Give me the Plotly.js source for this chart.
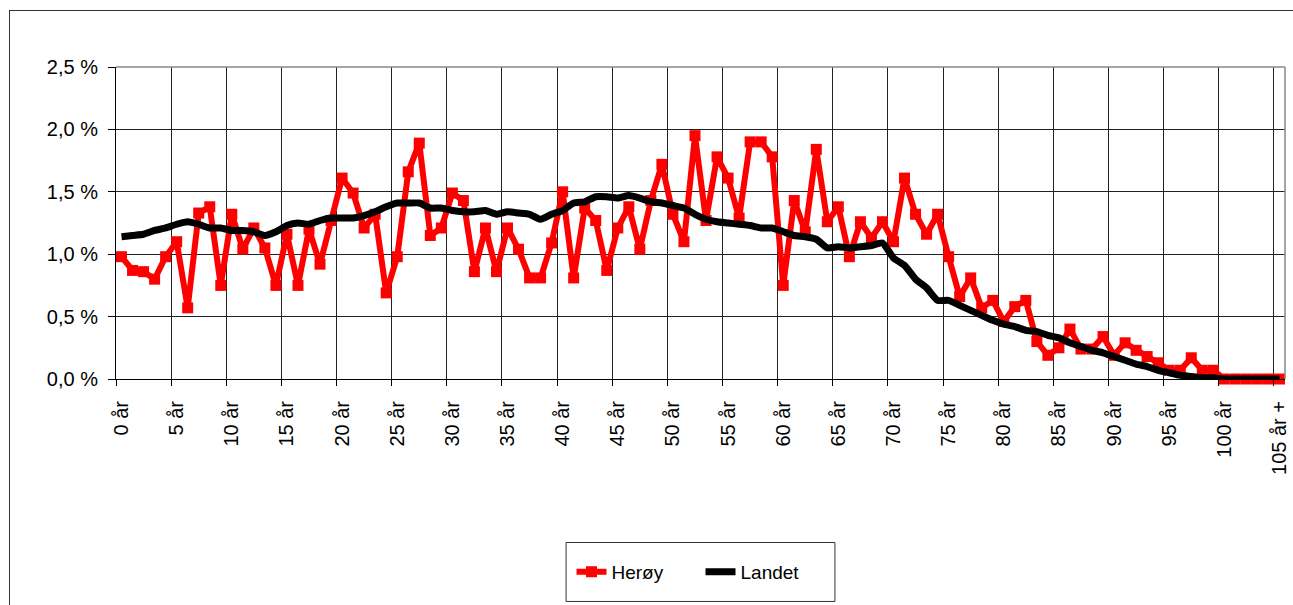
<!DOCTYPE html>
<html>
<head>
<meta charset="utf-8">
<script src="https://cdn.plot.ly/plotly-3.0.1.min.js"></script>
<style>
html,body{margin:0;padding:0;background:#fff;overflow:hidden}
#chart{width:1293px;height:605px}
#frame{position:absolute;left:9px;top:10px;width:2000px;height:2000px;border-left:1px solid #333;border-top:1px solid #333;pointer-events:none}
</style>
</head>
<body>
<div id="chart"></div>
<div id="frame"></div>
<script>
// Ages 0..105 (category index)
var ages = [];
for (var a = 0; a <= 105; a++) ages.push(a);

// Share of population (%) by age
var heroy = [
  0.98,0.87,0.86,0.80,0.98,1.10,0.57,1.33,1.38,0.75,
  1.32,1.04,1.21,1.05,0.75,1.16,0.75,1.20,0.92,1.27,
  1.61,1.49,1.21,1.32,0.69,0.98,1.66,1.89,1.15,1.21,
  1.49,1.43,0.86,1.21,0.86,1.21,1.04,0.81,0.81,1.09,
  1.50,0.81,1.37,1.27,0.87,1.21,1.38,1.04,1.43,1.72,
  1.32,1.10,1.95,1.27,1.78,1.61,1.29,1.90,1.90,1.78,
  0.75,1.43,1.18,1.84,1.26,1.38,0.98,1.26,1.13,1.26,
  1.10,1.61,1.32,1.16,1.32,0.98,0.66,0.81,0.57,0.63,
  0.46,0.58,0.63,0.30,0.19,0.25,0.40,0.24,0.24,0.34,
  0.19,0.29,0.23,0.18,0.13,0.07,0.07,0.17,0.07,0.07,
  0,0,0,0,0,0
];
var landet = [
  1.14,1.15,1.16,1.19,1.21,1.24,1.26,1.24,1.21,1.21,
  1.19,1.19,1.18,1.15,1.18,1.23,1.25,1.24,1.27,1.29,
  1.29,1.29,1.31,1.34,1.38,1.41,1.41,1.41,1.37,1.37,
  1.35,1.34,1.34,1.35,1.32,1.34,1.33,1.32,1.28,1.32,
  1.35,1.41,1.42,1.46,1.46,1.45,1.47,1.45,1.42,1.41,
  1.39,1.37,1.32,1.28,1.26,1.25,1.24,1.23,1.21,1.21,
  1.18,1.15,1.14,1.12,1.05,1.06,1.05,1.06,1.07,1.09,
  0.97,0.91,0.80,0.73,0.63,0.63,0.59,0.55,0.51,0.47,
  0.44,0.42,0.39,0.38,0.35,0.33,0.29,0.26,0.23,0.21,
  0.18,0.15,0.12,0.10,0.07,0.05,0.03,0.02,0.01,0.01,
  0,0,0,0,0,0
];

// Tick labels every 5 years
var xTickLabels = ["0 år","5 år","10 år","15 år","20 år","25 år","30 år","35 år","40 år","45 år","50 år",
  "55 år","60 år","65 år","70 år","75 år","80 år","85 år","90 år","95 år","100 år","105 år +"];
var xTickAges = [0,5,10,15,20,25,30,35,40,45,50,55,60,65,70,75,80,85,90,95,100,105];
var yTickVals = [0,0.5,1,1.5,2,2.5];
var yTickLabels = ["0,0 %","0,5 %","1,0 %","1,5 %","2,0 %","2,5 %"];

// gridlines/ticks sit on category boundaries, labels centred in category
var xBoundaries = xTickAges.map(function(v){ return v - 0.5; });

var font = "Liberation Sans, Arial, sans-serif";

var traces = [
  {
    x: ages, y: heroy, name: "Herøy", type: "scatter", mode: "lines+markers",
    line: {color: "#ff0000", width: 6},
    marker: {symbol: "square", size: 11, color: "#ff0000"},
    cliponaxis: false
  },
  {
    x: ages, y: landet, name: "Landet", type: "scatter", mode: "lines",
    xaxis: "x2",
    line: {color: "#000000", width: 7, shape: "spline", smoothing: 0.5},
    cliponaxis: false
  }
];

var layout = {
  width: 1293, height: 605,
  margin: {l: 116, r: 8, t: 67, b: 226, pad: 0},
  paper_bgcolor: "#ffffff", plot_bgcolor: "#ffffff",
  font: {family: font, size: 19, color: "#000"},
  showlegend: true,
  xaxis: {
    range: [-0.5, 105.5], tickmode: "array", tickvals: xTickAges, ticktext: xTickLabels,
    tickangle: -90, ticks: "outside", ticklen: 6, tickcolor: "rgba(0,0,0,0)",
    ticklabelstandoff: 7,
    showgrid: false,
    showline: true, linecolor: "#000", linewidth: 1, zeroline: false,
    tickfont: {family: font, size: 20, color: "#000"}, fixedrange: true
  },
  xaxis2: {
    overlaying: "x", anchor: "y", side: "bottom",
    range: [-0.5, 105.5], tickmode: "array", tickvals: xBoundaries,
    showticklabels: false, ticks: "outside", ticklen: 6, tickcolor: "#000", tickwidth: 1,
    showgrid: true, gridcolor: "#222", gridwidth: 1,
    showline: false, zeroline: false, fixedrange: true
  },
  yaxis: {
    range: [0, 2.5], tickmode: "array", tickvals: yTickVals, ticktext: yTickLabels,
    ticks: "outside", ticklen: 7, tickcolor: "#000", tickwidth: 1,
    ticklabelstandoff: 6,
    showgrid: true, gridcolor: "#222", gridwidth: 1,
    showline: true, linecolor: "#000", linewidth: 1, zeroline: false,
    tickfont: {family: font, size: 20, color: "#000"}, fixedrange: true
  },
  shapes: [
    {type: "line", xref: "paper", yref: "paper", x0: 1, x1: 1, y0: 0, y1: 1, line: {color: "#888", width: 1.5}},
    {type: "line", xref: "paper", yref: "paper", x0: 0, x1: 1, y0: 1, y1: 1, line: {color: "#888", width: 1.5}},
    {type: "rect", xref: "paper", yref: "paper", x0: 0.385, x1: 0.615, y0: -0.524, y1: -0.713,
     line: {color: "#333", width: 1}, fillcolor: "rgba(0,0,0,0)"}
  ],
  legend: {
    orientation: "h", x: 0.5, xanchor: "center", y: -0.6186, yanchor: "middle",
    borderwidth: 0, bgcolor: "rgba(0,0,0,0)", entrywidth: 84,
    font: {family: font, size: 19, color: "#000"}
  }
};

Plotly.newPlot("chart", traces, layout, {displayModeBar: false, staticPlot: true});
</script>
</body>
</html>
